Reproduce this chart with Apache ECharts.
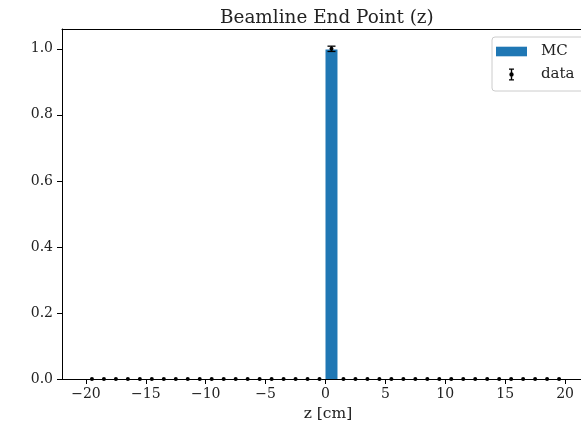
<!DOCTYPE html>
<html><head><meta charset="utf-8">
<script src="https://cdn.jsdelivr.net/npm/echarts@6/dist/echarts.min.js"></script>
<style>html,body{margin:0;padding:0;background:#fff}#c{width:581px;height:428px}</style>
</head><body><div id="c"></div>
<script>
const binEdges = [-20,-19,-18,-17,-16,-15,-14,-13,-12,-11,-10,-9,-8,-7,-6,-5,-4,-3,-2,-1,0,1,2,3,4,5,6,7,8,9,10,11,12,13,14,15,16,17,18,19,20];
const mcValues = [0,0,0,0,0,0,0,0,0,0,0,0,0,0,0,0,0,0,0,0,0.998,0,0,0,0,0,0,0,0,0,0,0,0,0,0,0,0,0,0,0];
const dataValues = [0,0,0,0,0,0,0,0,0,0,0,0,0,0,0,0,0,0,0,0,1.0,0,0,0,0,0,0,0,0,0,0,0,0,0,0,0,0,0,0,0];
const dataErrors = [0,0,0,0,0,0,0,0,0,0,0,0,0,0,0,0,0,0,0,0,0.008,0,0,0,0,0,0,0,0,0,0,0,0,0,0,0,0,0,0,0];
const xTicks = [-20,-15,-10,-5,0,5,10,15,20];
const yTicks = [0,0.2,0.4,0.6,0.8,1.0];

const FONT = "'DejaVu Serif', serif";
const TXT = '#222';
const mcData = mcValues.map((v,i)=>[binEdges[i], binEdges[i+1], v]);
const ptData = dataValues.map((v,i)=>[(binEdges[i]+binEdges[i+1])/2, v, dataErrors[i]]);

const chart = echarts.init(document.getElementById('c'), null, {renderer:'canvas'});
chart.setOption({
  animation:false,
  backgroundColor:'#fff',
  title:{text:'Beamline End Point (z)', left:215, top:4,
    textStyle:{fontFamily:FONT, fontSize:18.4, fontWeight:'normal', color:TXT}},
  grid:{left:62, top:29, right:-8, bottom:49, show:false,
    containLabel:false, outerBoundsMode:'none'},
  legend:{
    left:492, top:37, orient:'vertical',
    padding:[7,30,9,4], itemGap:8, itemWidth:31, itemHeight:12,
    backgroundColor:'rgba(255,255,255,0.8)', borderColor:'#ccc', borderWidth:1, borderRadius:3,
    textStyle:{fontFamily:FONT, fontSize:15, color:TXT, padding:[0,0,0,9]},
    data:[
      {name:'MC', icon:'path://M0,0H31V9.6H0Z', itemStyle:{color:'#1f77b4', borderWidth:0}},
      {name:'data', icon:'path://M0,0H10V2.6H0Z M3.6,0H6.4V24H3.6Z M0,21.4H10V24H0Z M0.6,12A4.4,4.4 0 1 1 9.4,12A4.4,4.4 0 1 1 0.6,12Z', itemStyle:{color:'#000', borderWidth:0}}
    ]
  },
  xAxis:[{type:'value', min:-22, max:22,
    name:'z [cm]', nameLocation:'middle', nameGap:27,
    nameTextStyle:{fontFamily:FONT, fontSize:15.5, color:TXT, padding:[0,0,0,5]},
    axisLine:{show:true, onZero:false, lineStyle:{color:'#000', width:1}},
    axisTick:{show:true, length:5, customValues:xTicks, lineStyle:{color:'#000'}},
    axisLabel:{customValues:xTicks, margin:8, fontFamily:FONT, fontSize:14, color:TXT,
      formatter:v=> v<0 ? '\u2212'+Math.abs(v) : String(v)},
    splitLine:{show:false}},
   {type:'value', min:-22, max:22, position:'top',
    axisLine:{show:true, onZero:false, lineStyle:{color:'#000', width:1}},
    axisTick:{show:false}, axisLabel:{show:false}, splitLine:{show:false}}],
  yAxis:{type:'value', min:0, max:1.06,
    axisLine:{show:true, onZero:false, lineStyle:{color:'#000', width:1}},
    axisTick:{show:true, length:5, customValues:yTicks, lineStyle:{color:'#000'}},
    axisLabel:{customValues:yTicks, margin:9, fontFamily:FONT, fontSize:14, color:TXT,
      formatter:v=> v.toFixed(1)},
    splitLine:{show:false}},
  series:[
    {name:'MC', type:'custom', data:mcData, encode:{x:[0,1], y:2}, itemStyle:{color:'#1f77b4'},
      renderItem:(params, api)=>{
        const p0 = api.coord([api.value(0), api.value(2)]);
        const p1 = api.coord([api.value(1), 0]);
        return {type:'rect', shape:{x:p0[0], y:p0[1], width:p1[0]-p0[0], height:p1[1]-p0[1]},
          style:{fill:'#1f77b4'}};
      }},
    {name:'data', type:'custom', data:ptData, encode:{x:0, y:1}, z:5, itemStyle:{color:'#000'},
      renderItem:(params, api)=>{
        const x = api.value(0), y = api.value(1), e = api.value(2);
        const c = api.coord([x,y]);
        const t = api.coord([x,y+e]);
        const b = api.coord([x,y-e]);
        const kids = [];
        if (e > 0) {
          kids.push({type:'line', shape:{x1:c[0], y1:t[1], x2:c[0], y2:b[1]}, style:{stroke:'#000', lineWidth:1.3}});
          kids.push({type:'line', shape:{x1:c[0]-4, y1:t[1], x2:c[0]+4, y2:t[1]}, style:{stroke:'#000', lineWidth:1.3}});
          kids.push({type:'line', shape:{x1:c[0]-4, y1:b[1], x2:c[0]+4, y2:b[1]}, style:{stroke:'#000', lineWidth:1.3}});
        }
        kids.push({type:'circle', shape:{cx:c[0], cy:c[1], r:2}, style:{fill:'#000'}});
        return {type:'group', children:kids};
      }}
  ]
});
</script></body></html>
